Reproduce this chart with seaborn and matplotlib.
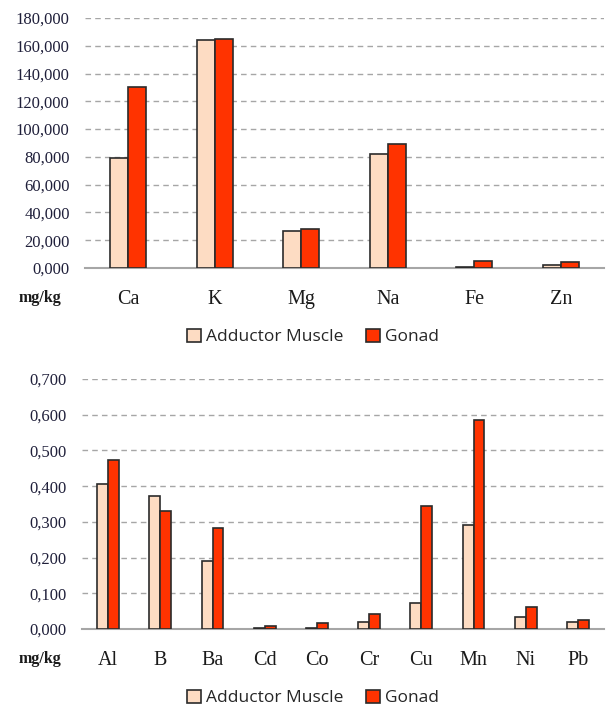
import pandas as pd
import seaborn as sns
import matplotlib.pyplot as plt
from matplotlib.ticker import FuncFormatter

# macro elements (values as shown on the axis, comma = decimal)
macro = ['Ca', 'K', 'Mg', 'Na', 'Fe', 'Zn']
macro_muscle = [79.5, 163.9, 26.4, 81.9, 0.7, 2.4]
macro_gonad = [130.1, 164.9, 27.9, 89.1, 5.3, 4.3]

# trace elements
trace = ['Al', 'B', 'Ba', 'Cd', 'Co', 'Cr', 'Cu', 'Mn', 'Ni', 'Pb']
trace_muscle = [0.407, 0.372, 0.191, 0.003, 0.003, 0.021, 0.074, 0.291, 0.035, 0.021]
trace_gonad = [0.472, 0.330, 0.283, 0.009, 0.016, 0.041, 0.344, 0.585, 0.063, 0.024]

groups = ['Adductor Muscle', 'Gonad']
colors = ['#FDDCC3', '#FF3300']

sns.set_style('white')
plt.rcParams['font.family'] = ['Liberation Serif', 'DejaVu Serif']


def long_df(cats, a, b):
    return pd.DataFrame({
        'element': cats * 2,
        'value': a + b,
        'tissue': [groups[0]] * len(cats) + [groups[1]] * len(cats),
    })


def comma_fmt(v, pos):
    return f'{v:.3f}'.replace('.', ',')


def draw(ax, df, ymax, step, legend_y, mgkg_y):
    sns.barplot(data=df, x='element', y='value', hue='tissue', palette=colors,
                hue_order=groups, width=0.42, edgecolor='#2b2b2b', linewidth=1.2,
                saturation=1, ax=ax, legend=True, zorder=3)
    ax.set_ylim(0, ymax)
    ax.set_xlim(-0.5, len(df['element'].unique()) - 0.5)
    ax.set_yticks([i * step for i in range(int(round(ymax / step)) + 1)])
    ax.yaxis.set_major_formatter(FuncFormatter(comma_fmt))
    ax.grid(axis='y', linestyle=(0, (4, 3)), color='#a6a6a6', linewidth=1, zorder=0)
    ax.set_xlabel('')
    ax.set_ylabel('')
    for s in ['left', 'right', 'top']:
        ax.spines[s].set_visible(False)
    ax.spines['bottom'].set_color('#a6a6a6')
    ax.spines['bottom'].set_linewidth(1.5)
    ax.tick_params(axis='y', length=0, pad=11, labelsize=12, labelcolor='#1f1f3a')
    ax.tick_params(axis='x', length=0, pad=16, labelsize=14.5, labelcolor='#1a1a1a')
    h, l = ax.get_legend_handles_labels()
    ax.get_legend().remove()
    fig.legend(h, l, loc='center', bbox_to_anchor=(0.515, legend_y), ncol=2,
               frameon=False, handlelength=0.8, handleheight=0.8,
               handletextpad=0.3, columnspacing=1.3,
               prop={'family': 'Open Sans', 'size': 12.5})
    fig.text(40 / 608, mgkg_y, 'mg/kg', ha='center', va='center',
             fontsize=11.5, fontweight='bold', color='#1a1a1a')


fig = plt.figure(figsize=(6.08, 7.09), dpi=100)
ax1 = fig.add_axes([85 / 608, 1 - 268 / 709, 519 / 608, 250 / 709])
ax2 = fig.add_axes([82 / 608, 1 - 629 / 709, 522 / 608, 250 / 709])

draw(ax1, long_df(macro, macro_muscle, macro_gonad), 180, 20,
     1 - 337 / 709, 1 - 298 / 709)
draw(ax2, long_df(trace, trace_muscle, trace_gonad), 0.7, 0.1,
     1 - 698 / 709, 1 - 659 / 709)

fig.savefig('out.png', dpi=100)
